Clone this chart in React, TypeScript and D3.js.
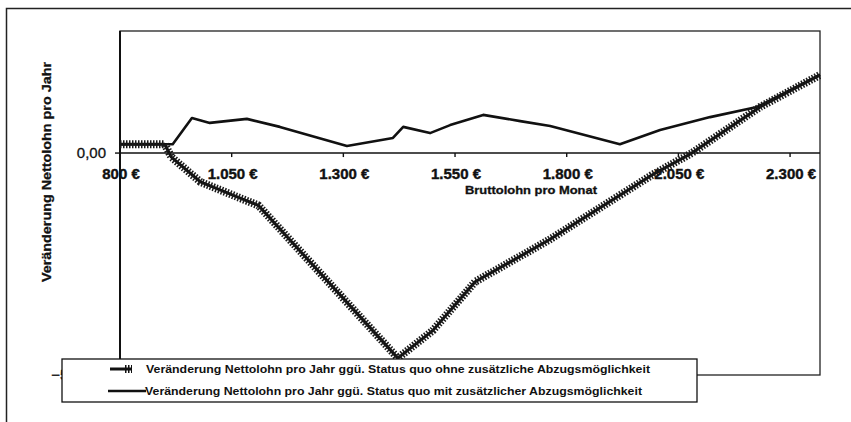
import React, { useEffect, useRef } from "react";
import * as d3 from "d3";

// Bruttolohn (€) / Veränderung Nettolohn pro Jahr (€)
const ohneX = [800, 900, 915, 980, 1080, 1110, 1422, 1500, 1595, 1760, 1990, 2080, 2233, 2367];
const ohneY = [20, 20, -9, -65, -106, -118, -462, -400, -290, -196, -50, 0, 104, 176];

const mitX = [800, 918, 961, 1001, 1084, 1158, 1308, 1411, 1434, 1494, 1539, 1613, 1696, 1763, 1919, 2009, 2121, 2226, 2367];
const mitY = [20, 20, 79, 68, 77, 59, 16, 34, 59, 45, 63, 86, 72, 61, 20, 52, 81, 104, 176];

const xTicks = [800, 1050, 1300, 1550, 1800, 2050, 2300];
const yTicks = [0, -500];

const legendLabels = [
  "Veränderung Nettolohn pro Jahr ggü. Status quo ohne zusätzliche Abzugsmöglichkeit",
  "Veränderung Nettolohn pro Jahr ggü. Status quo mit zusätzlicher Abzugsmöglichkeit",
];

const fmtEuro = (v: number) => d3.format(",")(v).replace(/,/g, ".") + " €";
const fmtVal = (v: number) => d3.format(".2f")(v).replace(".", ",");

export default function App() {
  const ref = useRef<SVGSVGElement>(null);

  useEffect(() => {
    const svg = d3.select(ref.current);
    svg.selectAll("*").remove();

    const font = "'Liberation Sans', Arial, sans-serif";
    const x = d3.scaleLinear().domain([800, 2367]).range([120, 820]);
    const y = d3.scaleLinear().domain([-500, 275]).range([375, 31]);

    // outer frame (only top and left visible)
    svg.append("path")
      .attr("d", "M6.5,422V8.5H851")
      .attr("fill", "none")
      .attr("stroke", "#222")
      .attr("stroke-width", 1.5);

    // plot area
    svg.append("rect")
      .attr("x", 120).attr("y", 31).attr("width", 700).attr("height", 344)
      .attr("fill", "none").attr("stroke", "#222").attr("stroke-width", 1.3);
    svg.append("line")
      .attr("x1", 120).attr("x2", 120).attr("y1", 31).attr("y2", 375)
      .attr("stroke", "#111").attr("stroke-width", 2);

    // x axis at zero
    svg.append("line")
      .attr("x1", 120).attr("x2", 820).attr("y1", y(0)).attr("y2", y(0))
      .attr("stroke", "#111").attr("stroke-width", 1.6);
    svg.append("g").selectAll("line").data(xTicks).join("line")
      .attr("x1", (d) => x(d)).attr("x2", (d) => x(d))
      .attr("y1", y(0)).attr("y2", y(0) + 4)
      .attr("stroke", "#111").attr("stroke-width", 1.4);
    svg.append("g").selectAll("text").data(xTicks).join("text")
      .attr("x", (d) => x(d) + 1).attr("y", y(0) + 26)
      .attr("text-anchor", "middle")
      .attr("font-family", font).attr("font-weight", "bold").attr("font-size", 15)
      .attr("stroke", "#111").attr("stroke-width", 0.4)
      .attr("fill", "#111")
      .text((d) => fmtEuro(d));

    // y ticks
    svg.append("g").selectAll("line").data(yTicks).join("line")
      .attr("x1", 115).attr("x2", 120)
      .attr("y1", (d) => y(d)).attr("y2", (d) => y(d))
      .attr("stroke", "#111").attr("stroke-width", 1.4);
    svg.append("g").selectAll("text").data(yTicks).join("text")
      .attr("x", 106).attr("y", (d) => y(d) + 5)
      .attr("text-anchor", "end")
      .attr("font-family", font).attr("font-size", 15)
      .attr("stroke", "#111").attr("stroke-width", 0.3)
      .attr("fill", "#111")
      .text((d) => fmtVal(d));

    // axis titles
    svg.append("text")
      .attr("transform", "translate(51,172) rotate(-90)")
      .attr("text-anchor", "middle")
      .attr("font-family", font).attr("font-weight", "bold").attr("font-size", 13.5)
      .attr("stroke", "#111").attr("stroke-width", 0.3)
      .attr("textLength", 220).attr("lengthAdjust", "spacingAndGlyphs")
      .attr("fill", "#111")
      .text("Veränderung Nettolohn pro Jahr");
    svg.append("text")
      .attr("x", 531).attr("y", 194)
      .attr("text-anchor", "middle")
      .attr("font-family", font).attr("font-weight", "bold").attr("font-size", 11)
      .attr("stroke", "#111").attr("stroke-width", 0.3)
      .attr("textLength", 132).attr("lengthAdjust", "spacingAndGlyphs")
      .attr("fill", "#111")
      .text("Bruttolohn pro Monat");

    const ohne = ohneX.map((v, i) => [x(v), y(ohneY[i])] as [number, number]);
    const mit = mitX.map((v, i) => [x(v), y(mitY[i])] as [number, number]);
    const path = d3.line();

    // series "mit" – plain line
    svg.append("path")
      .attr("d", path(mit))
      .attr("fill", "none").attr("stroke", "#111").attr("stroke-width", 2.6)
      .attr("stroke-linejoin", "round");

    // series "ohne" – line with dense cross markers
    svg.append("path")
      .attr("d", path(ohne))
      .attr("fill", "none").attr("stroke", "#111").attr("stroke-width", 3)
      .attr("stroke-linejoin", "round");
    svg.append("path")
      .attr("d", path(ohne))
      .attr("fill", "none").attr("stroke", "#1a1a1a").attr("stroke-width", 8)
      .attr("stroke-dasharray", "1.5 1.5")
      .attr("stroke-linejoin", "round");

    // legend
    const lg = svg.append("g");
    lg.append("rect")
      .attr("x", 62).attr("y", 359).attr("width", 635).attr("height", 43)
      .attr("fill", "#fff").attr("stroke", "#111").attr("stroke-width", 1.3);
    lg.append("line")
      .attr("x1", 110).attr("x2", 132).attr("y1", 369).attr("y2", 369)
      .attr("stroke", "#111").attr("stroke-width", 3);
    lg.append("line")
      .attr("x1", 125).attr("x2", 132).attr("y1", 369).attr("y2", 369)
      .attr("stroke", "#111").attr("stroke-width", 8)
      .attr("stroke-dasharray", "1.5 1.5");
    lg.append("line")
      .attr("x1", 108).attr("x2", 146).attr("y1", 391).attr("y2", 391)
      .attr("stroke", "#111").attr("stroke-width", 2.6);
    lg.selectAll("text.l").data(legendLabels).join("text")
      .attr("class", "l")
      .attr("x", (d, i) => (i === 0 ? 146 : 145))
      .attr("y", (d, i) => 373 + i * 22)
      .attr("font-family", font).attr("font-weight", "bold").attr("font-size", 11.5)
      .attr("textLength", (d, i) => (i === 0 ? 504 : 497))
      .attr("lengthAdjust", "spacingAndGlyphs")
      .attr("fill", "#111")
      .text((d) => d);
  }, []);

  return (
    <svg
      ref={ref}
      width={851}
      height={422}
      style={{ position: "absolute", left: 0, top: 0, background: "#fff" }}
    />
  );
}
